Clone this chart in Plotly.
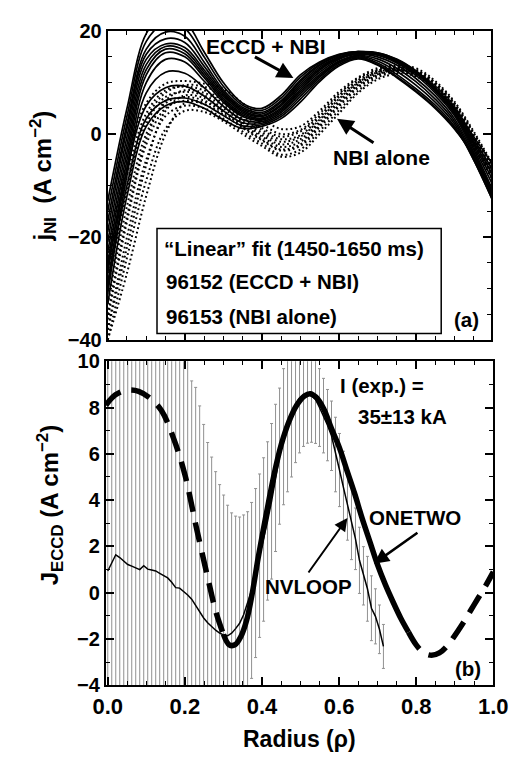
import numpy as np
import plotly.graph_objects as go

# ---------------- DATA ----------------
# Panel (a): non-inductive current density profiles vs normalized radius
rho_a = [0.0, 0.05, 0.10, 0.15, 0.20, 0.25, 0.30, 0.35, 0.40, 0.45, 0.50,
         0.55, 0.60, 0.65, 0.70, 0.75, 0.80, 0.85, 0.90, 0.95, 1.00]

# 96152 (ECCD + NBI) "linear" fits, solid lines
eccd_nbi_profiles = [
    [-13, 5, 19.5, 23.5, 22, 16, 10, 6, 5, 7.5, 11.5, 14, 15.5, 16, 15.5, 14, 11.8, 8.8, 5, -0.5, -6],
    [-15, 3.5, 18, 21.5, 20.5, 15, 9.3, 5.6, 4.6, 7, 11, 13.8, 15.4, 16, 15.7, 14.3, 12, 8.8, 4.8, -1, -7],
    [-17, 2, 16.5, 19.8, 19, 14, 8.6, 5.2, 4.2, 6.5, 10.5, 13.5, 15.3, 16, 15.8, 14.5, 12.2, 8.8, 4.5, -1.5, -8],
    [-19, 1, 15.5, 18.5, 17.8, 13.2, 8.2, 4.9, 3.9, 6.2, 10.2, 13.3, 15.2, 15.9, 15.8, 14.6, 12.3, 8.9, 4.4, -2, -9],
    [-21, -0.5, 14.5, 17.5, 16.8, 12.5, 7.8, 4.6, 3.6, 5.8, 9.8, 13, 15, 15.8, 15.6, 14.4, 12, 8.6, 4.2, -2.5, -10],
    [-23, -2, 13.5, 17, 16.2, 12, 7.4, 4.3, 3.4, 5.5, 9.4, 12.7, 14.8, 15.7, 15.5, 14.2, 11.8, 8.4, 4, -3, -11],
    [-25, -3.5, 12.5, 16.5, 15.6, 11.5, 7, 4, 3.1, 5.1, 9, 12.4, 14.7, 15.6, 15.3, 13.8, 11.4, 8, 3.6, -3.5, -11.5],
    [-27, -5, 11.5, 15.8, 15, 11, 6.6, 3.7, 2.9, 4.8, 8.6, 12, 14.5, 15.5, 15, 13.4, 10.8, 7.4, 3, -4, -12],
    [-29, -6.5, 10, 14.5, 14, 10.3, 6.2, 3.4, 2.7, 4.5, 8.2, 11.6, 14.2, 15.3, 14.6, 12.8, 10.2, 6.8, 2.5, -4.5, -12.5],
    [-31, -8, 8, 12, 11.8, 9, 5.4, 2.8, 2.4, 4.2, 7.8, 11.3, 14, 15.2, 14.2, 12.2, 9.5, 6.2, 2, -5, -13],
    [-26, -7, 5.5, 9, 9.3, 7.4, 4.5, 2.2, 2.1, 3.8, 7.3, 11, 13.8, 15, 13.8, 11.6, 8.8, 5.6, 1.5, -5, -13],
    [-30, -10, 3, 6.5, 7, 5.8, 3.6, 1.6, 1.8, 3.4, 6.8, 10.6, 13.5, 14.8, 13.5, 11.2, 8.4, 5.2, 1.2, -4.5, -12.5],
    [-33, -12, 1.5, 5.5, 6.3, 5, 2.8, 1.1, 1.5, 3, 6.2, 10.2, 13.2, 14.6, 13.4, 11, 8.2, 5.0, 1, -4.3, -12],
]

# 96153 (NBI alone) "linear" fits, dotted
nbi_alone_profiles = [
    [-24, -5, 6, 9.8, 10.3, 9.8, 8.8, 6, 3, 1, 1.5, 4.5, 8.2, 11, 12.8, 13.3, 12.8, 10.3, 6.3, 0.5, -6],
    [-27, -8, 4, 8.5, 9.2, 8.5, 6.5, 3.5, 1.2, -0.5, 0.5, 3.5, 7.5, 10.5, 12.3, 12.9, 12.3, 9.8, 5.8, 0, -6.5],
    [-30, -11, 2, 7.2, 8.2, 7.5, 5.5, 2.5, 0.3, -1.5, -0.5, 2.8, 6.8, 10, 12, 12.6, 12, 9.5, 5.5, -0.5, -7],
    [-33, -14, 0, 6, 7.2, 6.5, 4.5, 1.8, -0.5, -2.5, -1.5, 2, 6, 9.5, 11.6, 12.4, 11.8, 9.2, 5.2, -1, -7.5],
    [-36, -17, -2, 5, 6.5, 5.8, 3.8, 1.2, -1.2, -3.2, -2.3, 1.3, 5.3, 9, 11.3, 12.2, 11.6, 9, 5, -1.5, -8],
    [-38, -20, -5, 3.5, 5.5, 5, 3, 0.5, -1.8, -4, -3, 0.6, 4.6, 8.4, 11, 12, 11.4, 8.8, 4.8, -2, -8.5],
    [-40, -24, -9, 1, 4.5, 4.3, 2.5, 0, -2.3, -4.4, -3.6, 0, 4, 8, 10.6, 11.7, 11.2, 8.6, 4.6, -2.5, -9],
    [-30, -10, 3, 8, 9.5, 9.2, 7.5, 4.5, 2, 0, 0.8, 4, 7.8, 10.8, 12.5, 13, 12.5, 10, 6, 0.2, -6.3],
    [-35, -16, -1, 6.5, 8.5, 8, 6, 3, 0.8, -1, -0.2, 3.2, 7.2, 10.2, 12.2, 12.8, 12.2, 9.6, 5.6, -0.7, -7.2],
    [-38, -22, -6, 4.5, 7.5, 7, 5, 2.2, -0.2, -2, -1, 2.4, 6.4, 9.8, 11.9, 12.5, 11.9, 9.3, 5.3, -1.2, -7.8],
    [-40, -27, -12, 0, 6, 6.2, 4.2, 1.5, -1, -3, -2, 1.6, 5.6, 9.2, 11.5, 12.3, 11.7, 9.1, 5.1, -1.7, -8.2],
]

# Panel (b): ECCD current density
# NVLOOP (70 radial points from rho = 0 to 0.715)
rho_nvloop = list(np.linspace(0.0, 0.715, 70))
j_nvloop = [0.94, 1.3, 1.64, 1.52, 1.38, 1.22, 1.15, 1.06, 1.0, 1.17,
            1.02, 0.98, 0.94, 0.84, 0.73, 0.64, 0.45, 0.22, 0.2, 0.06,
            -0.1, -0.28, -0.55, -0.82, -1.09, -1.3, -1.48, -1.62, -1.74, -1.83,
            -1.86, -1.75, -1.55, -1.32, -0.95, -0.45, 0.1, 0.85, 1.6, 2.3,
            3.1, 3.95, 4.96, 5.9, 6.74, 7.3, 7.8, 8.15, 8.4, 8.52,
            8.56, 8.5, 8.35, 8.0, 7.65, 7.24, 6.78, 5.97, 5.3, 4.54,
            3.77, 3.0, 2.33, 1.4, 0.73, 0.17, -0.67, -1.02, -1.58, -2.32]
err_nvloop = [15.0, 14.8, 14.6, 14.4, 14.2, 14.0, 13.8, 13.6, 13.4, 13.2,
              13.0, 12.8, 12.6, 12.4, 12.2, 12.0, 11.7, 11.4, 11.0, 10.6,
              10.3, 9.43, 9.42, 8.89, 8.36, 7.79, 7.34, 6.85, 6.41, 6.05,
              5.64, 5.2, 4.86, 4.59, 4.31, 3.95, 3.8, 3.65, 3.53, 3.53,
              3.42, 3.36, 3.18, 2.94, 2.94, 2.94, 2.8, 2.53, 2.36, 2.2,
              2.1, 2.0, 1.9, 1.68, 1.61, 1.54, 1.5, 1.61, 1.58, 1.57,
              1.5, 1.57, 1.33, 1.43, 1.26, 1.4, 1.4, 1.19, 1.05, 0.95]

# ONETWO calculation
rho_onetwo = [-0.005, 0.02, 0.05, 0.08, 0.11, 0.14, 0.17, 0.20, 0.23, 0.26,
              0.28, 0.30, 0.315, 0.33, 0.345, 0.36, 0.375, 0.39, 0.41, 0.43,
              0.45, 0.47, 0.49, 0.51, 0.525, 0.54, 0.56, 0.58, 0.60, 0.62,
              0.64, 0.66, 0.68, 0.70, 0.72, 0.74, 0.76, 0.78, 0.80, 0.82,
              0.84, 0.86, 0.88, 0.90, 0.92, 0.94, 0.96, 0.98, 1.00]
j_onetwo = [8.1, 8.55, 8.75, 8.7, 8.4, 7.85, 6.7, 5.1, 2.8, 0.6,
            -0.8, -1.8, -2.25, -2.25, -1.9, -1.2, 0.0, 1.5, 3.3, 5.0,
            6.4, 7.4, 8.1, 8.5, 8.6, 8.45, 7.95, 7.1, 6.3, 5.3,
            4.3, 3.2, 2.2, 1.2, 0.35, -0.4, -1.1, -1.7, -2.25, -2.6,
            -2.7, -2.6, -2.3, -1.85, -1.35, -0.8, -0.25, 0.3, 0.9]
onetwo_solid_from = 0.30   # solid portion of the ONETWO curve
onetwo_solid_to = 0.78

x_ticks_b = [0.0, 0.2, 0.4, 0.6, 0.8, 1.0]
x_ticklabels_b = ["0.0", "0.2", "0.4", "0.6", "0.8", "1.0"]

# ---------------- FIGURE ----------------
FONT = "Liberation Sans Narrow, Arial Narrow, Liberation Sans, Arial, sans-serif"
W, H = 532, 765

def px(x):
    return x / W

def py(y):
    return 1 - y / H

fig = go.Figure()

# panel (a)
for prof in nbi_alone_profiles:
    fig.add_trace(go.Scatter(x=rho_a, y=prof, mode="lines", xaxis="x", yaxis="y",
                             line=dict(color="black", width=2.0, dash="1.8px,2.8px", shape="spline"),
                             showlegend=False, hoverinfo="skip"))
for prof in eccd_nbi_profiles:
    fig.add_trace(go.Scatter(x=rho_a, y=prof, mode="lines", xaxis="x", yaxis="y",
                             line=dict(color="black", width=1.7, shape="spline"),
                             showlegend=False, hoverinfo="skip"))

# panel (b): error bars
fig.add_trace(go.Scatter(x=rho_nvloop, y=j_nvloop, mode="markers", xaxis="x2", yaxis="y2",
                         marker=dict(size=1, color="rgba(0,0,0,0)"),
                         error_y=dict(type="data", array=err_nvloop, visible=True,
                                      color="rgb(145,145,145)", thickness=1, width=1.5),
                         showlegend=False, hoverinfo="skip"))

# ONETWO: dashed outside, solid inside
r1 = [r for r in rho_onetwo if r <= onetwo_solid_from + 1e-9]
j1 = [j for r, j in zip(rho_onetwo, j_onetwo) if r <= onetwo_solid_from + 1e-9]
r2 = [r for r in rho_onetwo if onetwo_solid_from - 1e-9 <= r <= onetwo_solid_to + 1e-9]
j2 = [j for r, j in zip(rho_onetwo, j_onetwo) if onetwo_solid_from - 1e-9 <= r <= onetwo_solid_to + 1e-9]
r3 = [r for r in rho_onetwo if r >= onetwo_solid_to - 1e-9]
j3 = [j for r, j in zip(rho_onetwo, j_onetwo) if r >= onetwo_solid_to - 1e-9]
for rr, jj, dash in [(r1, j1, "20px,11px"), (r2, j2, "solid"), (r3, j3, "20px,11px")]:
    fig.add_trace(go.Scatter(x=rr, y=jj, mode="lines", xaxis="x2", yaxis="y2",
                             line=dict(color="black", width=5.5, dash=dash, shape="spline"),
                             showlegend=False, hoverinfo="skip"))

fig.add_trace(go.Scatter(x=rho_nvloop, y=j_nvloop, mode="lines", xaxis="x2", yaxis="y2",
                         line=dict(color="black", width=1.5),
                         showlegend=False, hoverinfo="skip"))

axis_common = dict(showline=True, linewidth=2, linecolor="black", mirror="ticks",
                   ticks="inside", tickcolor="black", tickwidth=1.5, ticklen=8,
                   showgrid=False, zeroline=False)
xfont = dict(family=FONT, size=22, color="black", weight="bold")
yfont = dict(family=FONT, size=20, color="black", weight="bold")

fig.update_layout(
    width=W, height=H, margin=dict(l=0, r=0, t=0, b=0),
    paper_bgcolor="white", plot_bgcolor="white", showlegend=False,
    xaxis=dict(domain=[px(100), px(505)], range=[0.0, 0.996], anchor="y",
               tick0=0, dtick=0.2, showticklabels=False, tickfont=xfont,
               minor=dict(ticks="inside", dtick=0.05, ticklen=4, tickwidth=1.2, tickcolor="black"),
               **axis_common),
    yaxis=dict(domain=[py(338.7), py(20.7)], range=[-40, 20], anchor="x",
               tick0=0, dtick=20, tickfont=yfont,
               minor=dict(ticks="inside", dtick=5, ticklen=4, tickwidth=1.2, tickcolor="black"),
               **axis_common),
    xaxis2=dict(domain=[px(98), px(507)], range=[-0.005, 1.0], anchor="y2",
                tickvals=x_ticks_b, ticktext=x_ticklabels_b, tickfont=xfont,
                minor=dict(ticks="inside", dtick=0.05, tick0=0, ticklen=4, tickwidth=1.2, tickcolor="black"),
                **axis_common),
    yaxis2=dict(domain=[py(694.3), py(360.6)], range=[-4, 10], anchor="x2",
                tick0=0, dtick=2, tickfont=yfont,
                minor=dict(ticks="inside", dtick=1, ticklen=4, tickwidth=1.2, tickcolor="black"),
                **axis_common),
)

def txt(x, y, s, size=21, xanchor="center", angle=0):
    fig.add_annotation(x=px(x), y=py(y), xref="paper", yref="paper", text=s,
                       showarrow=False, xanchor=xanchor, yanchor="middle", textangle=angle,
                       font=dict(family=FONT, size=size, color="black", weight="bold"))

def arrow(xt, yt, xs, ys, width=3, size=1.0):
    fig.add_annotation(x=px(xt), y=py(yt), xref="paper", yref="paper", text="",
                       showarrow=True, ax=xs - xt, ay=ys - yt, axref="pixel", ayref="pixel",
                       arrowhead=2, arrowsize=size, arrowwidth=width, arrowcolor="black")

# legend box of panel (a)
fig.add_shape(type="rect", xref="paper", yref="paper",
              x0=px(152), x1=px(452), y0=py(332), y1=py(224),
              line=dict(color="black", width=1.5), fillcolor="white", layer="above")

txt(157, 245, "“Linear” fit (1450-1650 ms)", 20.5, "left")
txt(159, 279, "96152 (ECCD + NBI)", 20.5, "left")
txt(159, 315, "96153 (NBI alone)", 20.5, "left")
txt(479, 318, "(a)", 20.5)

txt(267, 37, "ECCD + NBI", 21)
arrow(296, 69, 256, 47, 3, 1.1)
txt(389, 151, "NBI alone", 21)
arrow(342, 111, 380, 136, 3, 1.1)

txt(390, 386, "I (exp.) =", 20.5)
txt(411, 418, "35±13 kA", 20.5)
txt(424, 521, "ONETWO", 20.5)
arrow(381, 569, 426, 537, 2.5, 1.2)
txt(312, 593, "NVLOOP", 20.5)
arrow(353, 522, 313, 578, 2, 1.3)
txt(480, 677, "(b)", 20.5)

# axis titles
txt(32, 170, "j<sub>NI</sub>  (A cm<sup>−2</sup>)", 24, angle=-90)
txt(39, 508, "J<sub>ECCD</sub> (A cm<sup>−2</sup>)", 24, angle=-90)
txt(302, 750, "Radius (ρ)", 23)

fig.write_html("out.html")
